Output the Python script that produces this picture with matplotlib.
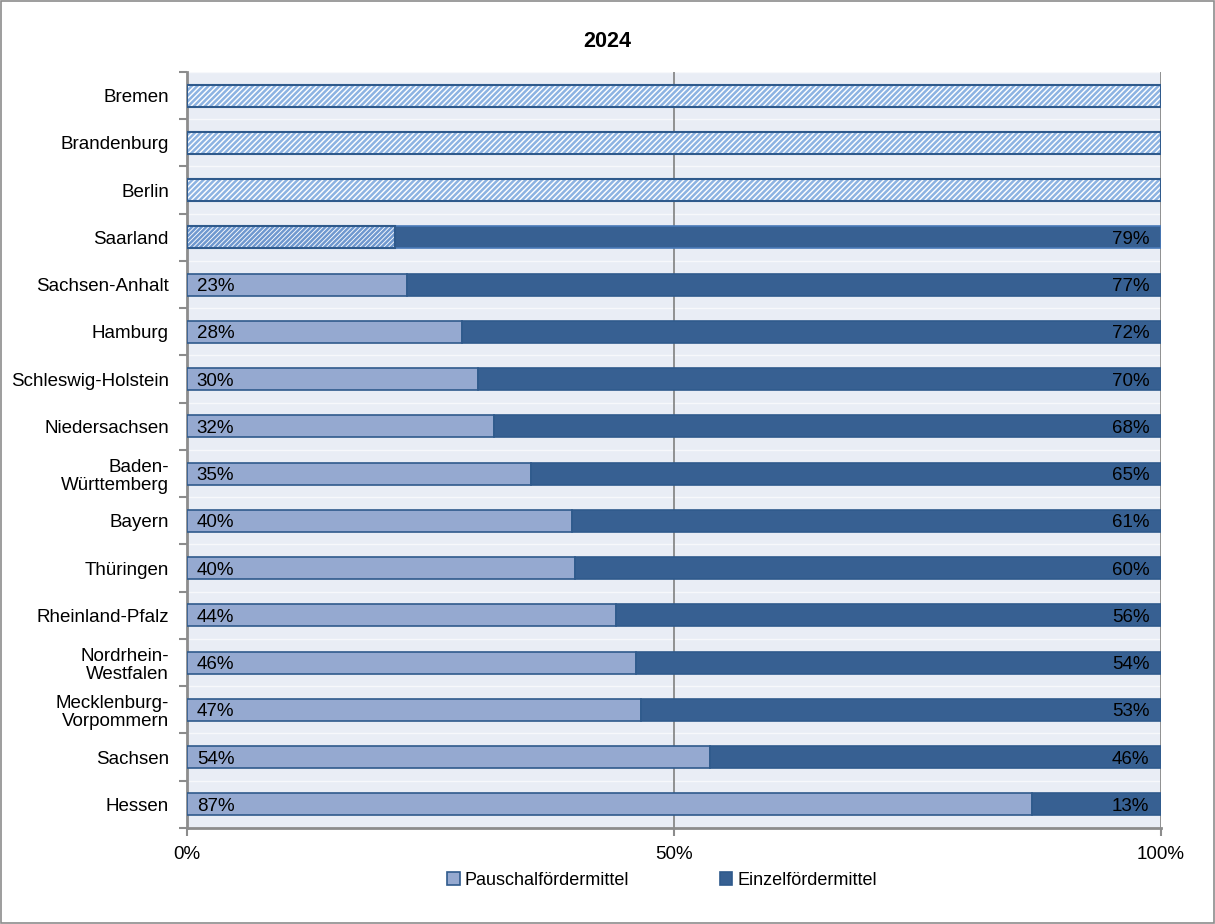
import matplotlib
matplotlib.use("Agg")
import matplotlib.pyplot as plt
from matplotlib.patches import Patch, Rectangle

plt.rcParams['font.family'] = ['Liberation Sans', 'DejaVu Sans']

title = "2024"
states = ["Bremen", "Brandenburg", "Berlin", "Saarland", "Sachsen-Anhalt", "Hamburg",
          "Schleswig-Holstein", "Niedersachsen", "Baden-\nWürttemberg", "Bayern", "Thüringen",
          "Rheinland-Pfalz", "Nordrhein-\nWestfalen", "Mecklenburg-\nVorpommern", "Sachsen", "Hessen"]
# share of Pauschalfördermittel (%), Einzelfördermittel = rest
pauschal = [100, 100, 100, 21.4, 22.6, 28.2, 29.9, 31.5, 35.3, 39.5, 39.8, 44.0, 46.1, 46.6, 53.7, 86.8]
hatched = [True, True, True, True, False, False, False, False, False, False, False, False, False, False, False, False]
pauschal_labels = ["", "", "", "", "23%", "28%", "30%", "32%", "35%", "40%", "40%", "44%", "46%", "47%", "54%", "87%"]
einzel_labels = ["", "", "", "79%", "77%", "72%", "70%", "68%", "65%", "61%", "60%", "56%", "54%", "53%", "46%", "13%"]
xticks = [0, 50, 100]
xticklabels = ["0%", "50%", "100%"]
legend_labels = ["Pauschalfördermittel", "Einzelfördermittel"]

c_light = "#95A9D0"
c_dark = "#376092"
c_edge = "#2F5A8C"
c_hatch = "#8DB3E2"
bg = "#E9EDF5"

fig = plt.figure(figsize=(12.15, 9.24), dpi=100)
fig.patch.set_facecolor("white")
fig.add_artist(Rectangle((0.001, 0.001), 0.998, 0.998, transform=fig.transFigure,
                         fill=False, edgecolor="#8C8C8C", linewidth=1.2))

ax = fig.add_axes([0.1539, 0.1039, 0.9556 - 0.1539, 0.9221 - 0.1039])
ax.set_facecolor(bg)
n = len(states)
ys = list(range(n))
h = 0.47

plt.rcParams['hatch.linewidth'] = 1.8
for i, (p, hat) in enumerate(zip(pauschal, hatched)):
    e = 100 - p
    if hat:
        hp = '///////' if p < 100 else '//////'
        hc = "#6F98CF" if p < 100 else c_hatch
        ax.barh(i, p, height=h, left=0, color="white", edgecolor=hc, hatch=hp, linewidth=0, zorder=3)
        ax.barh(i, p, height=h, left=0, fill=False, edgecolor=c_edge, linewidth=1.5, zorder=4)
    else:
        ax.barh(i, p, height=h, left=0, color=c_light, edgecolor=c_edge, linewidth=1.2, zorder=3)
    if e > 0.01:
        ax.barh(i, e, height=h, left=p, color=c_dark, edgecolor="#4A7AB8" if hat else c_edge,
                linewidth=1.2, zorder=3)
    if pauschal_labels[i]:
        ax.text(1.0, i, pauschal_labels[i], va="center_baseline", ha="left", fontsize=13.5,
                color="black", zorder=5)
    if einzel_labels[i]:
        ax.text(98.8, i, einzel_labels[i], va="center_baseline", ha="right", fontsize=13.5,
                color="black", zorder=5)

ax.set_xlim(0, 100)
ax.set_ylim(n - 0.5, -0.5)
ax.set_yticks(ys)
ax.set_yticklabels(states, fontsize=13.5, linespacing=1.1)
ax.set_yticks([i - 0.5 for i in range(n + 1)], minor=True)
ax.tick_params(axis="y", which="major", length=0, pad=13)
ax.tick_params(axis="y", which="minor", length=6, width=1.5, color="#8C8C8C")
ax.set_xticks(xticks)
ax.set_xticklabels(xticklabels, fontsize=13.5)
ax.tick_params(axis="x", length=6, width=1.5, color="#8C8C8C", pad=7)

for i in range(n + 1):
    ax.axhline(i - 0.5, color="#F7F8FB", linewidth=1.0, zorder=1)
for xv in xticks[1:]:
    ax.axvline(xv, color="#808080", linewidth=1.2, zorder=2)

for s in ["top", "right"]:
    ax.spines[s].set_visible(False)
for s in ["left", "bottom"]:
    ax.spines[s].set_color("#8C8C8C")
    ax.spines[s].set_linewidth(2)

fig.text(0.5, 0.955, title, ha="center", va="center", fontsize=15.5, fontweight="bold")

handles = [Patch(facecolor=c_light, edgecolor=c_edge, linewidth=1.2),
           Patch(facecolor=c_dark, edgecolor=c_edge, linewidth=1.2)]
fig.legend(handles, legend_labels, loc="center", bbox_to_anchor=(0.545, 0.047), ncol=2,
           frameon=False, fontsize=13, handlelength=0.7, handleheight=0.7, handletextpad=0.3,
           columnspacing=5.0)

fig.savefig("out.png", dpi=100, facecolor="white")
